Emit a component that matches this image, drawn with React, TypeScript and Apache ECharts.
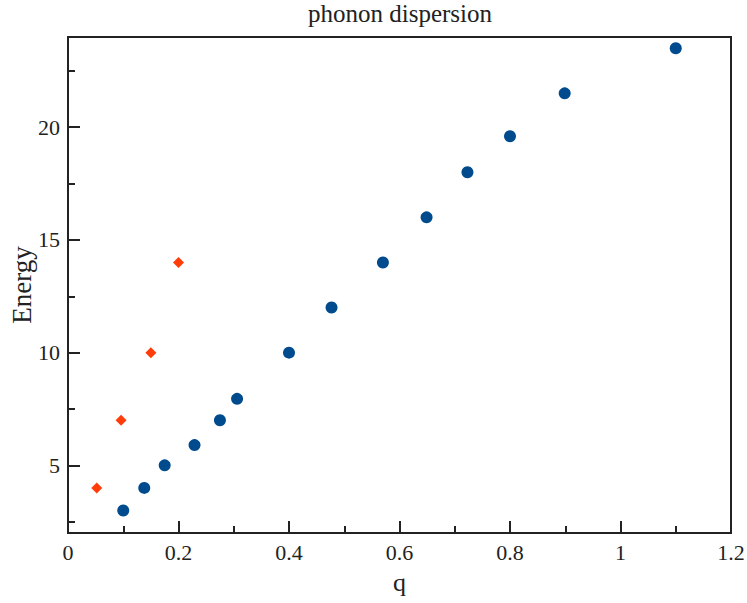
import React, { useEffect, useRef } from "react";
import * as echarts from "echarts";

const blueQ = [0.1, 0.138, 0.175, 0.229, 0.275, 0.306, 0.4, 0.477, 0.57, 0.649, 0.723, 0.8, 0.899, 1.1];
const blueE = [3, 4, 5, 5.9, 7, 7.95, 10, 12, 14, 16, 18, 19.6, 21.5, 23.5];
const redQ = [0.052, 0.096, 0.15, 0.2];
const redE = [4, 7, 10, 14];
const yMajor = [5, 10, 15, 20];
const yMinor = [2.5, 7.5, 12.5, 17.5, 22.5];

const FONT = "Liberation Serif";

export default function App() {
  const ref = useRef<HTMLDivElement>(null);
  useEffect(() => {
    if (!ref.current) return;
    const chart = echarts.init(ref.current, null, { renderer: "svg" });
    const lineStyle = { color: "#222", width: 2 };
    chart.setOption({
      animation: false,
      backgroundColor: "#fff",
      title: {
        text: "phonon dispersion",
        left: 400,
        textAlign: "center",
        top: 1,
        padding: 0,
        textStyle: { fontFamily: FONT, fontSize: 25, fontWeight: "normal", color: "#222" },
      },
      grid: {
        left: 68,
        right: 16,
        top: 37,
        bottom: 70,
        outerBoundsMode: "none",
        containLabel: false,
        show: true,
        borderColor: "#222",
        borderWidth: 2,
        backgroundColor: "transparent",
      },
      xAxis: {
        type: "value",
        min: 0,
        max: 1.2,
        interval: 0.2,
        name: "q",
        nameLocation: "middle",
        nameGap: 36,
        nameMoveOverlap: false,
        nameTextStyle: { fontFamily: FONT, fontSize: 26, color: "#222" },
        axisLine: { show: true, lineStyle },
        axisTick: { show: true, inside: true, length: 12, lineStyle },
        minorTick: { show: true, splitNumber: 2, length: 7, lineStyle },
        splitLine: { show: false },
        axisLabel: {
          fontFamily: FONT,
          fontSize: 22,
          color: "#222",
          margin: 8,
          formatter: (v: number) => String(Math.round(v * 10) / 10),
        },
      },
      yAxis: [
        {
          type: "value",
          min: 2,
          max: 24,
          name: "Energy",
          nameLocation: "middle",
          nameGap: 33,
          nameRotate: 90,
          nameMoveOverlap: false,
          nameTextStyle: { fontFamily: FONT, fontSize: 27, color: "#222" },
          axisLine: { show: true, lineStyle },
          axisTick: { show: true, inside: true, length: 12, lineStyle, customValues: yMajor },
          splitLine: { show: false },
          axisLabel: {
            fontFamily: FONT,
            fontSize: 22,
            color: "#222",
            margin: 8,
            customValues: yMajor,
          },
        },
        {
          type: "value",
          min: 2,
          max: 24,
          position: "left",
          axisLine: { show: false },
          axisTick: { show: true, inside: true, length: 7, lineStyle, customValues: yMinor },
          axisLabel: { show: false },
          splitLine: { show: false },
        },
      ],
      series: [
        {
          type: "scatter",
          yAxisIndex: 0,
          symbol: "circle",
          symbolSize: 12,
          itemStyle: { color: "#004b8d", opacity: 1 },
          data: blueQ.map((q, i) => [q, blueE[i]]),
        },
        {
          type: "scatter",
          yAxisIndex: 0,
          symbol: "diamond",
          symbolSize: 11,
          itemStyle: { color: "#ff3d0a", opacity: 1 },
          data: redQ.map((q, i) => [q, redE[i]]),
        },
      ],
    });
    return () => chart.dispose();
  }, []);
  return (
    <div
      ref={ref}
      style={{ position: "absolute", left: 0, top: 0, width: 747, height: 603 }}
    />
  );
}
